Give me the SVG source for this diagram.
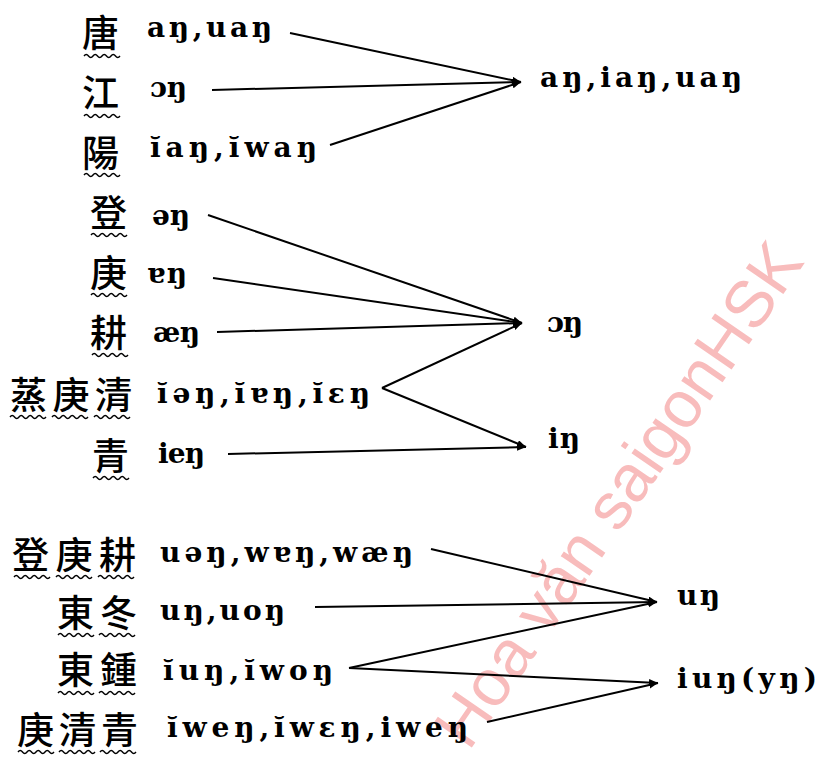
<svg xmlns="http://www.w3.org/2000/svg" xmlns:xlink="http://www.w3.org/1999/xlink" width="819" height="763" viewBox="0 0 819 763">
<style>
.cjk{font-family:"Noto Sans CJK TC","Noto Sans CJK SC",sans-serif;font-size:37px;font-weight:500;fill:#000}
.ph{font-family:"DejaVu Serif","Liberation Serif",serif;font-size:28px;font-weight:bold;fill:#000}
.cn line{stroke:#000;stroke-width:2;fill:none;marker-end:url(#ah)}
.wv{stroke:#000;stroke-width:1.4;fill:none}
.wm{font-family:"Liberation Sans",Arial,sans-serif;font-size:66px;fill:#f8bcbc}
</style>
<defs>
<marker id="ah" markerUnits="userSpaceOnUse" markerWidth="10" markerHeight="8" refX="9" refY="3.5" orient="auto">
<path d="M0,0 L9,3.5 L0,7 z" fill="#000"/>
</marker>
<path id="wave" class="wv" d="M0,0 q2.25,-3 4.5,0 t4.5,0 t4.5,0 t4.5,0 t4.5,0 t4.5,0 t4.5,0 t4.5,0"/>
</defs>
<rect width="819" height="763" fill="#fff"/>

<g id="watermark">
<text class="wm" x="618" y="494" text-anchor="middle" dominant-baseline="central" transform="rotate(-55.5 618 494)">Hoa văn saigonHSK</text>
</g>

<g id="connectors" class="cn">
<line x1="290" y1="33" x2="521" y2="82"/>
<line x1="212" y1="90" x2="521" y2="82"/>
<line x1="330" y1="145" x2="521" y2="82"/>
<line x1="208" y1="215" x2="522" y2="323"/>
<line x1="213" y1="278" x2="522" y2="323"/>
<line x1="217" y1="332" x2="522" y2="323"/>
<line x1="382" y1="388" x2="522" y2="323"/>
<line x1="382" y1="388" x2="526" y2="447"/>
<line x1="228" y1="454" x2="526" y2="447"/>
<line x1="431" y1="549" x2="657" y2="602"/>
<line x1="315" y1="607" x2="657" y2="602"/>
<line x1="349" y1="668" x2="657" y2="602"/>
<line x1="349" y1="668" x2="658" y2="683"/>
<line x1="487" y1="722" x2="658" y2="683"/>
</g>

<g id="n-tang">
<text class="cjk" x="82" y="47">唐</text>
<use xlink:href="#wave" x="84" y="56"/>
<text class="ph" x="147" y="37" textLength="125" lengthAdjust="spacing">aŋ,uaŋ</text>
</g>
<g id="n-jiang">
<text class="cjk" x="82" y="107">江</text>
<use xlink:href="#wave" x="84" y="116"/>
<text class="ph" x="150" y="97" textLength="37" lengthAdjust="spacing">ɔŋ</text>
</g>
<g id="n-yang">
<text class="cjk" x="82" y="167">陽</text>
<use xlink:href="#wave" x="84" y="175"/>
<text class="ph" x="150" y="157" textLength="167" lengthAdjust="spacing">ĭaŋ,ĭwaŋ</text>
</g>
<g id="t-ang">
<text class="ph" x="540" y="87" textLength="202" lengthAdjust="spacing">aŋ,iaŋ,uaŋ</text>
</g>

<g id="n-deng">
<text class="cjk" x="90" y="227">登</text>
<use xlink:href="#wave" x="91" y="235"/>
<text class="ph" x="152" y="225" textLength="38" lengthAdjust="spacing">əŋ</text>
</g>
<g id="n-geng">
<text class="cjk" x="90" y="287">庚</text>
<use xlink:href="#wave" x="91" y="295"/>
<text class="ph" x="147" y="283" textLength="40" lengthAdjust="spacing">ɐŋ</text>
</g>
<g id="n-geng2">
<text class="cjk" x="90" y="347">耕</text>
<use xlink:href="#wave" x="92" y="355"/>
<text class="ph" x="153" y="342" textLength="47" lengthAdjust="spacing">æŋ</text>
</g>
<g id="n-zhenggengqing">
<text class="cjk" x="10" y="409" textLength="122" lengthAdjust="spacing">蒸庚清</text>
<use xlink:href="#wave" x="10" y="417"/>
<use xlink:href="#wave" x="52" y="417"/>
<use xlink:href="#wave" x="94" y="417"/>
<text class="ph" x="157" y="403" textLength="213" lengthAdjust="spacing">ĭəŋ,ĭɐŋ,ĭɛŋ</text>
</g>
<g id="n-qing">
<text class="cjk" x="92" y="470">青</text>
<use xlink:href="#wave" x="93" y="478"/>
<text class="ph" x="158" y="463" textLength="47" lengthAdjust="spacing">ieŋ</text>
</g>
<g id="t-eng">
<text class="ph" x="547" y="332" textLength="36" lengthAdjust="spacing">ɔŋ</text>
</g>
<g id="t-ing">
<text class="ph" x="548" y="448" textLength="32" lengthAdjust="spacing">iŋ</text>
</g>

<g id="n-denggenggeng">
<text class="cjk" x="12" y="569" textLength="124" lengthAdjust="spacing">登庚耕</text>
<use xlink:href="#wave" x="14" y="577"/>
<use xlink:href="#wave" x="56" y="577"/>
<use xlink:href="#wave" x="98" y="577"/>
<text class="ph" x="160" y="562" textLength="253" lengthAdjust="spacing">uəŋ,wɐŋ,wæŋ</text>
</g>
<g id="n-dongdong">
<text class="cjk" x="57" y="627" textLength="80" lengthAdjust="spacing">東冬</text>
<use xlink:href="#wave" x="58" y="635"/>
<use xlink:href="#wave" x="99" y="635"/>
<text class="ph" x="160" y="620" textLength="125" lengthAdjust="spacing">uŋ,uoŋ</text>
</g>
<g id="n-dongzhong">
<text class="cjk" x="57" y="684" textLength="80" lengthAdjust="spacing">東鍾</text>
<use xlink:href="#wave" x="58" y="693"/>
<use xlink:href="#wave" x="99" y="693"/>
<text class="ph" x="163" y="680" textLength="170" lengthAdjust="spacing">ĭuŋ,ĭwoŋ</text>
</g>
<g id="n-gengqingqing">
<text class="cjk" x="17" y="744" textLength="121" lengthAdjust="spacing">庚清青</text>
<use xlink:href="#wave" x="18" y="752"/>
<use xlink:href="#wave" x="59" y="752"/>
<use xlink:href="#wave" x="100" y="752"/>
<text class="ph" x="167" y="737" textLength="301" lengthAdjust="spacing">ĭweŋ,ĭwɛŋ,iweŋ</text>
</g>
<g id="t-ung">
<text class="ph" x="677" y="605" textLength="43" lengthAdjust="spacing">uŋ</text>
</g>
<g id="t-iung">
<text class="ph" x="677" y="688" textLength="140" lengthAdjust="spacing">iuŋ(yŋ)</text>
</g>
</svg>
